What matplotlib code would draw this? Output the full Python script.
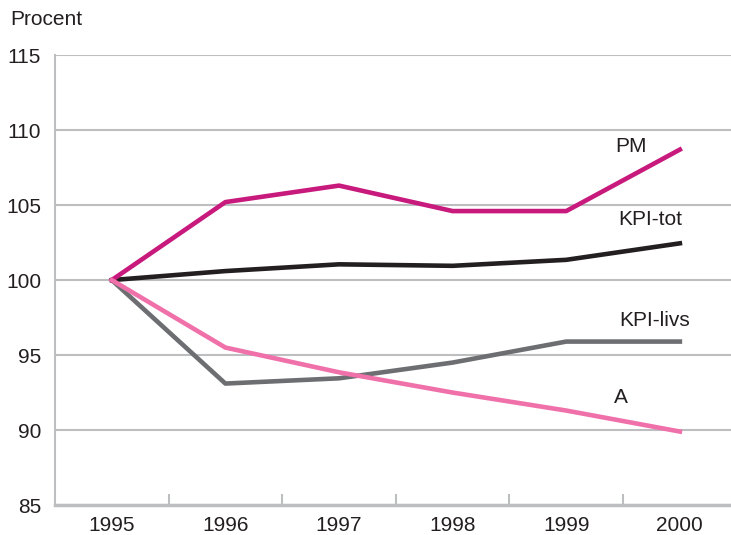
import numpy as np
import matplotlib.pyplot as plt

plt.rcParams['font.family'] = ['Liberation Sans', 'DejaVu Sans']

years = [1995, 1996, 1997, 1998, 1999, 2000]
pm = [100, 105.2, 106.3, 104.6, 104.6, 108.7]
kpi_tot = [100, 100.6, 101.05, 100.95, 101.35, 102.45]
kpi_livs = [100, 93.1, 93.45, 94.5, 95.9, 95.9]
a_vals = [100, 95.5, 93.85, 92.5, 91.3, 89.9]

grid_col = '#bcbec0'
text_col = '#231f20'

fig = plt.figure(figsize=(7.31, 5.35), dpi=100)
ax = fig.add_axes([0.0752, 0.056, 0.9248, 0.841])

for y in range(85, 116, 5):
    ax.axhline(y, color=grid_col, lw=1.5, zorder=1)

ax.plot(years, kpi_tot, color=text_col, lw=3.3, zorder=3)
ax.plot(years, kpi_livs, color='#6d6e71', lw=3.3, zorder=3)
ax.plot(years, a_vals, color='#f070aa', lw=3.3, zorder=4)
ax.plot(years, pm, color='#c8197c', lw=3.3, zorder=3)

ax.set_xlim(1994.5, 2000.45)
ax.set_ylim(85, 115)

ax.set_yticks(range(85, 116, 5))
ax.set_xticks(years)
ax.set_xticks(np.arange(1995.5, 2000, 1), minor=True)
ax.tick_params(axis='y', length=0, labelsize=15, pad=10, colors=text_col)
ax.tick_params(axis='x', which='major', length=0, labelsize=15, pad=8, colors=text_col)
ax.tick_params(axis='x', which='minor', direction='in', length=8, width=1.5, color=grid_col)

for s in ['top', 'right']:
    ax.spines[s].set_visible(False)
ax.spines['left'].set_color(grid_col)
ax.spines['left'].set_linewidth(1.5)
ax.spines['bottom'].set_color(grid_col)
ax.spines['bottom'].set_linewidth(2.5)

lbl = dict(fontsize=15, color=text_col, ha='center', va='center')
ax.text(1999.57, 108.9, 'PM', **lbl)
ax.text(1999.74, 104.05, 'KPI-tot', **lbl)
ax.text(1999.78, 97.3, 'KPI-livs', **lbl)
ax.text(1999.48, 92.2, 'A', **lbl)

fig.text(0.014, 0.963, 'Procent', fontsize=15, color=text_col, ha='left', va='center')

fig.savefig('out.png', dpi=100)
